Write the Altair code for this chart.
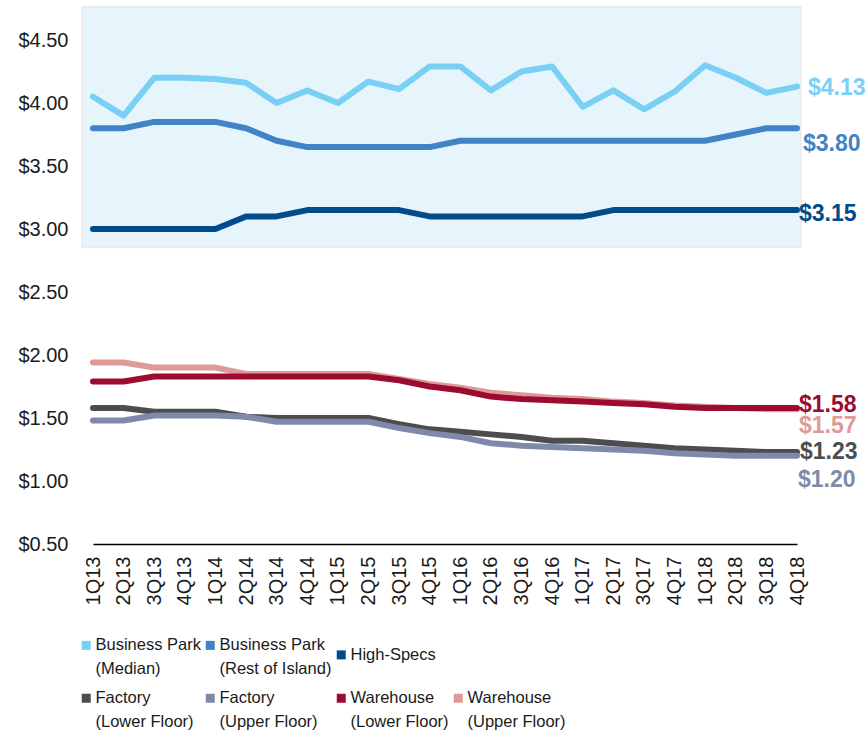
import altair as alt
import pandas as pd

# Quarterly rents (S$ psf pm), 1Q13 - 4Q18
quarters = [
    "1Q13", "2Q13", "3Q13", "4Q13", "1Q14", "2Q14", "3Q14", "4Q14",
    "1Q15", "2Q15", "3Q15", "4Q15", "1Q16", "2Q16", "3Q16", "4Q16",
    "1Q17", "2Q17", "3Q17", "4Q17", "1Q18", "2Q18", "3Q18", "4Q18",
]

bp_median = [4.05, 3.90, 4.20, 4.20, 4.19, 4.16, 4.00, 4.10, 4.00, 4.17, 4.11, 4.29,
             4.29, 4.10, 4.25, 4.29, 3.97, 4.10, 3.95, 4.09, 4.30, 4.20, 4.08, 4.13]
bp_rest = [3.80, 3.80, 3.85, 3.85, 3.85, 3.80, 3.70, 3.65, 3.65, 3.65, 3.65, 3.65,
           3.70, 3.70, 3.70, 3.70, 3.70, 3.70, 3.70, 3.70, 3.70, 3.75, 3.80, 3.80]
high_specs = [3.00, 3.00, 3.00, 3.00, 3.00, 3.10, 3.10, 3.15, 3.15, 3.15, 3.15, 3.10,
              3.10, 3.10, 3.10, 3.10, 3.10, 3.15, 3.15, 3.15, 3.15, 3.15, 3.15, 3.15]
factory_lower = [1.58, 1.58, 1.55, 1.55, 1.55, 1.51, 1.50, 1.50, 1.50, 1.50, 1.45, 1.41,
                 1.39, 1.37, 1.35, 1.32, 1.32, 1.30, 1.28, 1.26, 1.25, 1.24, 1.23, 1.23]
factory_upper = [1.48, 1.48, 1.52, 1.52, 1.52, 1.51, 1.47, 1.47, 1.47, 1.47, 1.42, 1.38,
                 1.35, 1.30, 1.28, 1.27, 1.26, 1.25, 1.24, 1.22, 1.21, 1.20, 1.20, 1.20]
warehouse_lower = [1.79, 1.79, 1.83, 1.83, 1.83, 1.83, 1.83, 1.83, 1.83, 1.83, 1.80, 1.75,
                   1.72, 1.67, 1.65, 1.64, 1.63, 1.62, 1.61, 1.59, 1.58, 1.58, 1.58, 1.58]
warehouse_upper = [1.94, 1.94, 1.90, 1.90, 1.90, 1.85, 1.85, 1.85, 1.85, 1.85, 1.81, 1.77,
                   1.74, 1.70, 1.68, 1.66, 1.65, 1.63, 1.62, 1.60, 1.59, 1.58, 1.57, 1.57]

series_names = [
    "Business Park (Median)", "Business Park (Rest of Island)", "High-Specs",
    "Factory (Lower Floor)", "Factory (Upper Floor)",
    "Warehouse (Lower Floor)", "Warehouse (Upper Floor)",
]
series_values = [bp_median, bp_rest, high_specs, factory_lower, factory_upper,
                 warehouse_lower, warehouse_upper]
series_colors = ["#7ACFF5", "#4282C6", "#004B8D", "#4D4D4F", "#7F8AAB", "#9C0B30", "#DE9A98"]

# paint order: the pale warehouse line sits underneath the dark one
draw_order = [0, 1, 2, 3, 4, 6, 5]

# end-of-line value labels: (dx, dy) nudges in pixels
label_nudge = {
    "Business Park (Median)": (11, 1),
    "Business Park (Rest of Island)": (6, 16),
    "High-Specs": (2, 4),
    "Factory (Lower Floor)": (3, 0),
    "Factory (Upper Floor)": (1, 24),
    "Warehouse (Lower Floor)": (2, -3),
    "Warehouse (Upper Floor)": (2, 17),
}

# shaded band behind the industrial-park series
band_low, band_high = 2.855, 4.764

W, H = 704, 504

rows = []
for i in draw_order:
    for q, v in zip(quarters, series_values[i]):
        rows.append({"quarter": q, "value": v, "series": series_names[i]})
df = pd.DataFrame(rows)

# legend is filled column by column over two rows; a blank slot keeps
# High-Specs alone at the end of the first row
spacer = " "
colour_of = dict(zip(series_names, series_colors))
colour_of[spacer] = "#ffffff"
legend_domain = [
    series_names[0], series_names[3],
    series_names[1], series_names[4],
    series_names[2], series_names[5],
    spacer, series_names[6],
]
legend_range = [colour_of[n] for n in legend_domain]

x_enc = alt.X(
    "quarter:N",
    sort=quarters,
    scale=alt.Scale(type="point", padding=0),
    axis=alt.Axis(
        title=None, labelAngle=270, labelFontSize=20, labelFont="Liberation Sans",
        labelColor="#1a1a1a", ticks=False, domainColor="#000000", domainWidth=1.5,
        labelPadding=12, grid=False,
    ),
)
y_scale = alt.Scale(domain=[0.5, 4.5], zero=False, nice=False)

band = alt.Chart(pd.DataFrame({"low": [band_low], "high": [band_high]})).mark_rect(
    fill="#E6F5FC", stroke="#EBEBEB", strokeWidth=2
).encode(
    x=alt.value(-10.7),
    x2=alt.value(W + 3.7),
    y=alt.Y("low:Q", scale=y_scale),
    y2="high:Q",
)

label_expr = (
    "indexof(datum.label, ' (') > 0 ? "
    "[slice(datum.label, 0, indexof(datum.label, ' (')), "
    "slice(datum.label, indexof(datum.label, ' (') + 1)] : datum.label"
)

lines = alt.Chart(df).mark_line(strokeWidth=6, strokeCap="round", strokeJoin="round").encode(
    x=x_enc,
    y=alt.Y(
        "value:Q",
        scale=y_scale,
        axis=alt.Axis(
            title=None, values=[0.5, 1.0, 1.5, 2.0, 2.5, 3.0, 3.5, 4.0, 4.5],
            format="$.2f", labelFontSize=20, labelFont="Liberation Sans",
            labelColor="#1a1a1a", ticks=False, domain=False, grid=False,
            labelPadding=25,
        ),
    ),
    color=alt.Color(
        "series:N",
        scale=alt.Scale(domain=legend_domain, range=legend_range),
        legend=alt.Legend(
            orient="none", legendX=-15, legendY=597, columns=4, title=None,
            symbolType="square", symbolSize=9, symbolStrokeWidth=6,
            labelFont="Liberation Sans", labelFontSize=16.5,
            labelColor="#1a1a1a", labelLimit=400, labelOffset=1,
            columnPadding=-5, rowPadding=6, labelExpr=label_expr,
        ),
    ),
    detail="series:N",
)

texts = []
for name, vals, col in zip(series_names, series_values, series_colors):
    dx, dy = label_nudge[name]
    end = pd.DataFrame({"quarter": [quarters[-1]], "value": [vals[-1]]})
    texts.append(
        alt.Chart(end).mark_text(
            align="left", baseline="middle", dx=dx, dy=dy, fontSize=23,
            fontWeight="bold", font="Liberation Sans", color=col,
        ).encode(
            x=alt.X("quarter:N", sort=quarters, scale=alt.Scale(type="point", padding=0)),
            y=alt.Y("value:Q", scale=y_scale),
            text=alt.Text("value:Q", format="$.2f"),
        )
    )

chart = alt.layer(band, lines, *texts).properties(
    width=W,
    height=H,
    background="#ffffff",
    autosize=alt.AutoSizeParams(type="none"),
    padding={"left": 93, "top": 40, "right": 71, "bottom": 189},
).configure(
    view=alt.ViewConfig(strokeWidth=0, strokeOpacity=0),
    style={"guide-label": {"lineHeight": 24}},
)

chart.save("out.html", embed_options={"renderer": "svg", "actions": False})
